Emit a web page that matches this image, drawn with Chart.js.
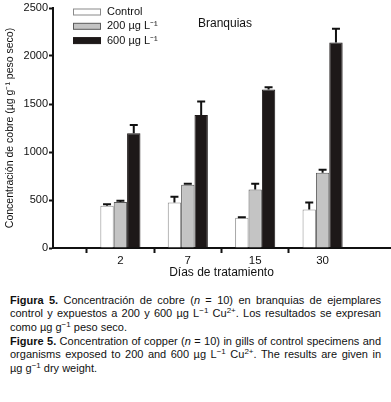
<!DOCTYPE html>
<html>
<head>
<meta charset="utf-8">
<script src="https://cdn.jsdelivr.net/npm/chart.js@4.4.0/dist/chart.umd.min.js"></script>
<style>
  body { margin: 0; background: #fff; }
  #wrap { position: relative; width: 391px; height: 294px; }
  #caption {
    font-family: "Liberation Sans", Arial, sans-serif;
    font-size: 11px;
    line-height: 13.1px;
    color: #111;
    text-align: justify;
    margin: 0 10px 0 10px;
  }
  #caption p { margin: 0; }
  #caption sup { font-size: 8px; vertical-align: baseline; position: relative; top: -4px; }
</style>
</head>
<body>
<div id="wrap"><canvas id="dataChart" width="391" height="288"></canvas></div>
<div id="caption">
  <p><b>Figura 5.</b> Concentración de cobre (<i>n</i> = 10) en branquias de ejemplares control y expuestos a 200 y 600 µg L<sup>−1</sup> Cu<sup>2+</sup>. Los resultados se expresan como µg&nbsp;g<sup>−1</sup> peso seco.</p>
  <p><b>Figure 5.</b> Concentration of copper (<i>n</i> = 10) in gills of control specimens and organisms exposed to 200 and 600 µg L<sup>−1</sup> Cu<sup>2+</sup>. The results are given in µg&nbsp;g<sup>−1</sup> dry weight.</p>
</div>
<script>
// Datos (días vacíos en los extremos para el espaciado del eje)
const dias = ['', '2', '7', '15', '30', ''];
const control = [null, 440, 475, 315, 400, null];
const control_err = [null, 15, 60, 5, 75, null];
const dosis200 = [null, 480, 660, 610, 785, null];
const dosis200_err = [null, 12, 10, 60, 30, null];
const dosis600 = [null, 1195, 1385, 1650, 2140, null];
const dosis600_err = [null, 85, 140, 25, 145, null];
const yTicks = [0, 500, 1000, 1500, 2000, 2500];

const errores = [control_err, dosis200_err, dosis600_err];
const fontFam = '"Liberation Sans", Arial, sans-serif';

// Barras de error (solo hacia arriba)
const errorBars = {
    id: 'errorBars',
    afterDatasetsDraw(chart) {
        const c = chart.ctx;
        const y = chart.scales.y;
        c.save();
        c.strokeStyle = '#111';
        c.lineWidth = 2;
        chart.data.datasets.forEach((ds, i) => {
            const meta = chart.getDatasetMeta(i);
            meta.data.forEach((bar, j) => {
                const v = ds.data[j];
                if (v === null) return;
                const top = y.getPixelForValue(v + errores[i][j]);
                c.beginPath();
                c.moveTo(bar.x, bar.y);
                c.lineTo(bar.x, top);
                c.moveTo(bar.x - 4, top);
                c.lineTo(bar.x + 4, top);
                c.stroke();
            });
        });
        c.restore();
    }
};

// Leyenda y título dentro del área
const leyenda = {
    id: 'leyenda',
    afterDraw(chart) {
        const c = chart.ctx;
        c.save();
        c.font = '11px ' + fontFam;
        c.textBaseline = 'middle';
        const labels = ['Control', '200 µg L⁻¹', '600 µg L⁻¹'];
        chart.data.datasets.forEach((ds, i) => {
            const cy = 12 + i * 14.3;
            c.fillStyle = ds.backgroundColor;
            c.fillRect(73.5, cy - 3, 27, 6);
            c.strokeStyle = ds.borderColor;
            c.lineWidth = 1;
            c.strokeRect(73.5, cy - 3, 27, 6);
            c.fillStyle = '#111';
            c.fillText(labels[i], 107, cy);
        });
        c.font = '12px ' + fontFam;
        c.fillText('Branquias', 198, 24);
        c.restore();
    }
};

const ctx = document.getElementById('dataChart').getContext('2d');
const chart = new Chart(ctx, {
    type: 'bar',
    data: {
        labels: dias,
        datasets: [
            { label: 'Control', data: control, backgroundColor: '#ffffff', borderColor: '#8a8a8a', borderWidth: 1 },
            { label: '200 µg L⁻¹', data: dosis200, backgroundColor: '#c4c4c4', borderColor: '#5a5a5a', borderWidth: 1 },
            { label: '600 µg L⁻¹', data: dosis600, backgroundColor: '#1d1818', borderColor: '#1d1818', borderWidth: 1 }
        ]
    },
    options: {
        responsive: false,
        animation: false,
        layout: { padding: { top: 8, right: 1, left: 0, bottom: 0 } },
        datasets: { bar: { categoryPercentage: 0.595, barPercentage: 1 } },
        plugins: { legend: { display: false }, tooltip: { enabled: false } },
        scales: {
            x: {
                offset: false,
                grid: {
                    drawOnChartArea: false,
                    tickLength: 5,
                    tickWidth: 2,
                    color: (c) => (c.tick && c.tick.label !== '') ? '#111' : 'rgba(0,0,0,0)'
                },
                border: { color: '#111', width: 2 },
                ticks: { color: '#111', font: { family: fontFam, size: 11.5 }, padding: 1, maxRotation: 0, autoSkip: false },
                title: { display: true, text: 'Días de tratamiento', color: '#111', font: { family: fontFam, size: 12 }, padding: { top: 0, bottom: 8 } },
                afterFit(scale) { scale.height = 40; }
            },
            y: {
                min: 0,
                max: 2500,
                afterBuildTicks(scale) { scale.ticks = yTicks.map(v => ({ value: v })); },
                grid: { drawOnChartArea: false, tickLength: 4, tickWidth: 2, color: '#111' },
                border: { color: '#111', width: 2 },
                ticks: { color: '#111', font: { family: fontFam, size: 11 }, padding: 1, callback: (v) => String(v) },
                title: { display: true, text: 'Concentración de cobre (µg g⁻¹ peso seco)', color: '#111', font: { family: fontFam, size: 10.5 }, padding: { top: 4, bottom: 0 } },
                afterFit(scale) { scale.width = 53; }
            }
        }
    },
    plugins: [errorBars, leyenda]
});
</script>
</body>
</html>
